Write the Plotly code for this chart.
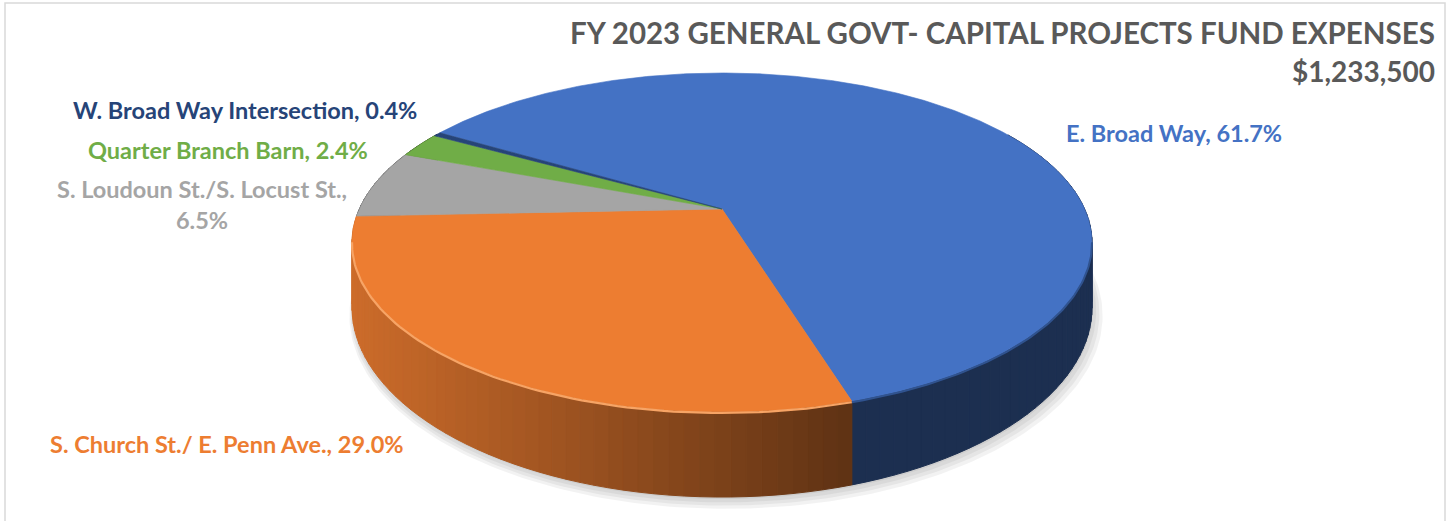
import numpy as np
import plotly.graph_objects as go

# ---------------- data ----------------
categories = ["E. Broad Way", "S. Church St./ E. Penn Ave.", "S. Loudoun St./S. Locust St.",
              "Quarter Branch Barn", "W. Broad Way Intersection"]
percent_values = [61.7, 29.0, 6.5, 2.4, 0.4]
title_text = "FY 2023 GENERAL GOVT- CAPITAL PROJECTS FUND EXPENSES"
total_amount = 1233500

# ---------------- styles ----------------
top_colors = ["#4472C4", "#ED7D31", "#A5A5A5", "#70AD47", "#264478"]
label_colors = ["#4472C4", "#ED7D31", "#A5A5A5", "#70AD47", "#264478"]
label_break = [False, False, True, False, False]
label_pos = [(1174, 133), (227, 444), (202, 204), (228, 150), (245, 110)]

W, H = 1455, 521
CX, CY = 722.0, 209.0          # apex of the pie (pixels)
A, B, K = 362.7, 162.9, 0.1976  # projection of the top disc
DD, K3 = 61.4, 0.278            # side depth
START = -59.0                   # clockwise from 12 o'clock
FONT = "Lato"
LABEL_SIZE = 23.5


def top_pt(theta):
    t = np.radians(theta)
    u, v = np.sin(t), np.cos(t)
    den = 1 + K * v
    return CX + A * u / den, CY - B * v / den


def bot_pt(theta):
    t = np.radians(theta)
    v = np.cos(t)
    x, y = top_pt(theta)
    return x, y + DD / (1 + K3 * v)


def shade(hex_color, f):
    h = hex_color.lstrip("#")
    r, g, b = (int(h[i:i + 2], 16) for i in (0, 2, 4))
    return "rgb(%d,%d,%d)" % (round(r * f), round(g * f), round(b * f))


fig = go.Figure()

# soft shadow under the pie
th_all = np.linspace(0, 360, 361)
bx, by = bot_pt(th_all)
for i, (dx, dy, sc) in enumerate([(1, 2, 1.0), (2, 4, 1.006), (3, 6, 1.012), (4, 8, 1.018)]):
    mx, my = CX, np.mean(by)
    fig.add_trace(go.Scatter(
        x=mx + (bx - mx) * sc + dx, y=my + (by - my) * sc + dy,
        mode="lines", fill="toself", fillcolor="rgba(0,0,0,0.05)",
        line=dict(width=0), hoverinfo="skip", showlegend=False))

# slice angles from data
total = sum(percent_values)
bounds = [START]
for p in percent_values:
    bounds.append(bounds[-1] + 360.0 * p / total)

# side walls (strips), painter's order back -> front
strips = []
for i in range(len(percent_values)):
    a0, a1 = bounds[i], bounds[i + 1]
    n = max(2, int(np.ceil((a1 - a0) / 2.0)))
    edges = np.linspace(a0, a1, n + 1)
    for j in range(n):
        s0, s1 = edges[j], edges[j + 1]
        mid = (s0 + s1) / 2 % 360
        if mid < 60 or mid > 300:
            continue
        strips.append((np.cos(np.radians(mid)), i, s0, s1))
strips.sort(key=lambda s: -s[0])
for v, i, s0, s1 in strips:
    arc = np.linspace(s0, s1, 4)
    tx, ty = top_pt(arc)
    bxx, byy = bot_pt(arc[::-1])
    xm = np.mean(tx)
    if i == 1:
        f = 0.86 - 0.46 * np.clip((xm - 355) / (850 - 355), 0, 1)
    else:
        f = 0.41
    col = shade(top_colors[i], f)
    fig.add_trace(go.Scatter(
        x=np.concatenate([tx, bxx, tx[:1]]), y=np.concatenate([ty, byy, ty[:1]]),
        mode="lines", fill="toself", fillcolor=col, line=dict(width=1, color=col),
        hoverinfo="skip", showlegend=False))

# top faces
for i in range(len(percent_values)):
    arc = np.linspace(bounds[i], bounds[i + 1], max(3, int((bounds[i + 1] - bounds[i]) * 2)))
    tx, ty = top_pt(arc)
    fig.add_trace(go.Scatter(
        x=np.concatenate([[CX], tx, [CX]]), y=np.concatenate([[CY], ty, [CY]]),
        mode="lines", fill="toself", fillcolor=top_colors[i],
        line=dict(width=0.6, color=top_colors[i]),
        hoverinfo="skip", showlegend=False, name=categories[i]))

# rim bevel highlights on visible front edge
for i, col, w in [(1, "#F7A465", 2.2), (0, "#30538F", 2.0)]:
    if i == 0:
        a0, a1 = max(bounds[i], 101.0), bounds[i + 1]
    else:
        a0, a1 = max(bounds[i], 101.0), min(bounds[i + 1], 259.0)
    arc = np.linspace(a0, a1, 80)
    tx, ty = top_pt(arc)
    fig.add_trace(go.Scatter(x=tx, y=ty + 1, mode="lines", line=dict(width=w, color=col),
                             hoverinfo="skip", showlegend=False))

# labels
annotations = []
for i, cat in enumerate(categories):
    if label_break[i]:
        txt = f"{cat},<br>{percent_values[i]:.1f}%"
    else:
        txt = f"{cat}, {percent_values[i]:.1f}%"
    annotations.append(dict(
        x=label_pos[i][0], y=label_pos[i][1], xref="x", yref="y", text=txt,
        showarrow=False, xanchor="center", yanchor="middle", align="center",
        font=dict(family=FONT, size=LABEL_SIZE, color=label_colors[i], weight="bold")))

annotations.append(dict(x=1437, y=32, xref="x", yref="y", text=title_text, showarrow=False,
                        xanchor="right", yanchor="middle",
                        font=dict(family=FONT, size=29.5, color="#595959", weight="bold")))
annotations.append(dict(x=1437, y=71, xref="x", yref="y", text=f"${total_amount:,}", showarrow=False,
                        xanchor="right", yanchor="middle",
                        font=dict(family=FONT, size=28, color="#595959", weight="bold")))

fig.update_layout(
    width=W, height=H, autosize=False,
    margin=dict(l=0, r=0, t=0, b=0),
    paper_bgcolor="white", plot_bgcolor="white",
    xaxis=dict(range=[0, W], visible=False, fixedrange=True),
    yaxis=dict(range=[H, 0], visible=False, fixedrange=True),
    annotations=annotations,
    shapes=[dict(type="rect", xref="x", yref="y", x0=5, y0=3, x1=1445, y1=540,
                 line=dict(color="#D9D9D9", width=1.5), fillcolor="rgba(0,0,0,0)", layer="below")],
    showlegend=False,
)

fig.write_html("out.html")
